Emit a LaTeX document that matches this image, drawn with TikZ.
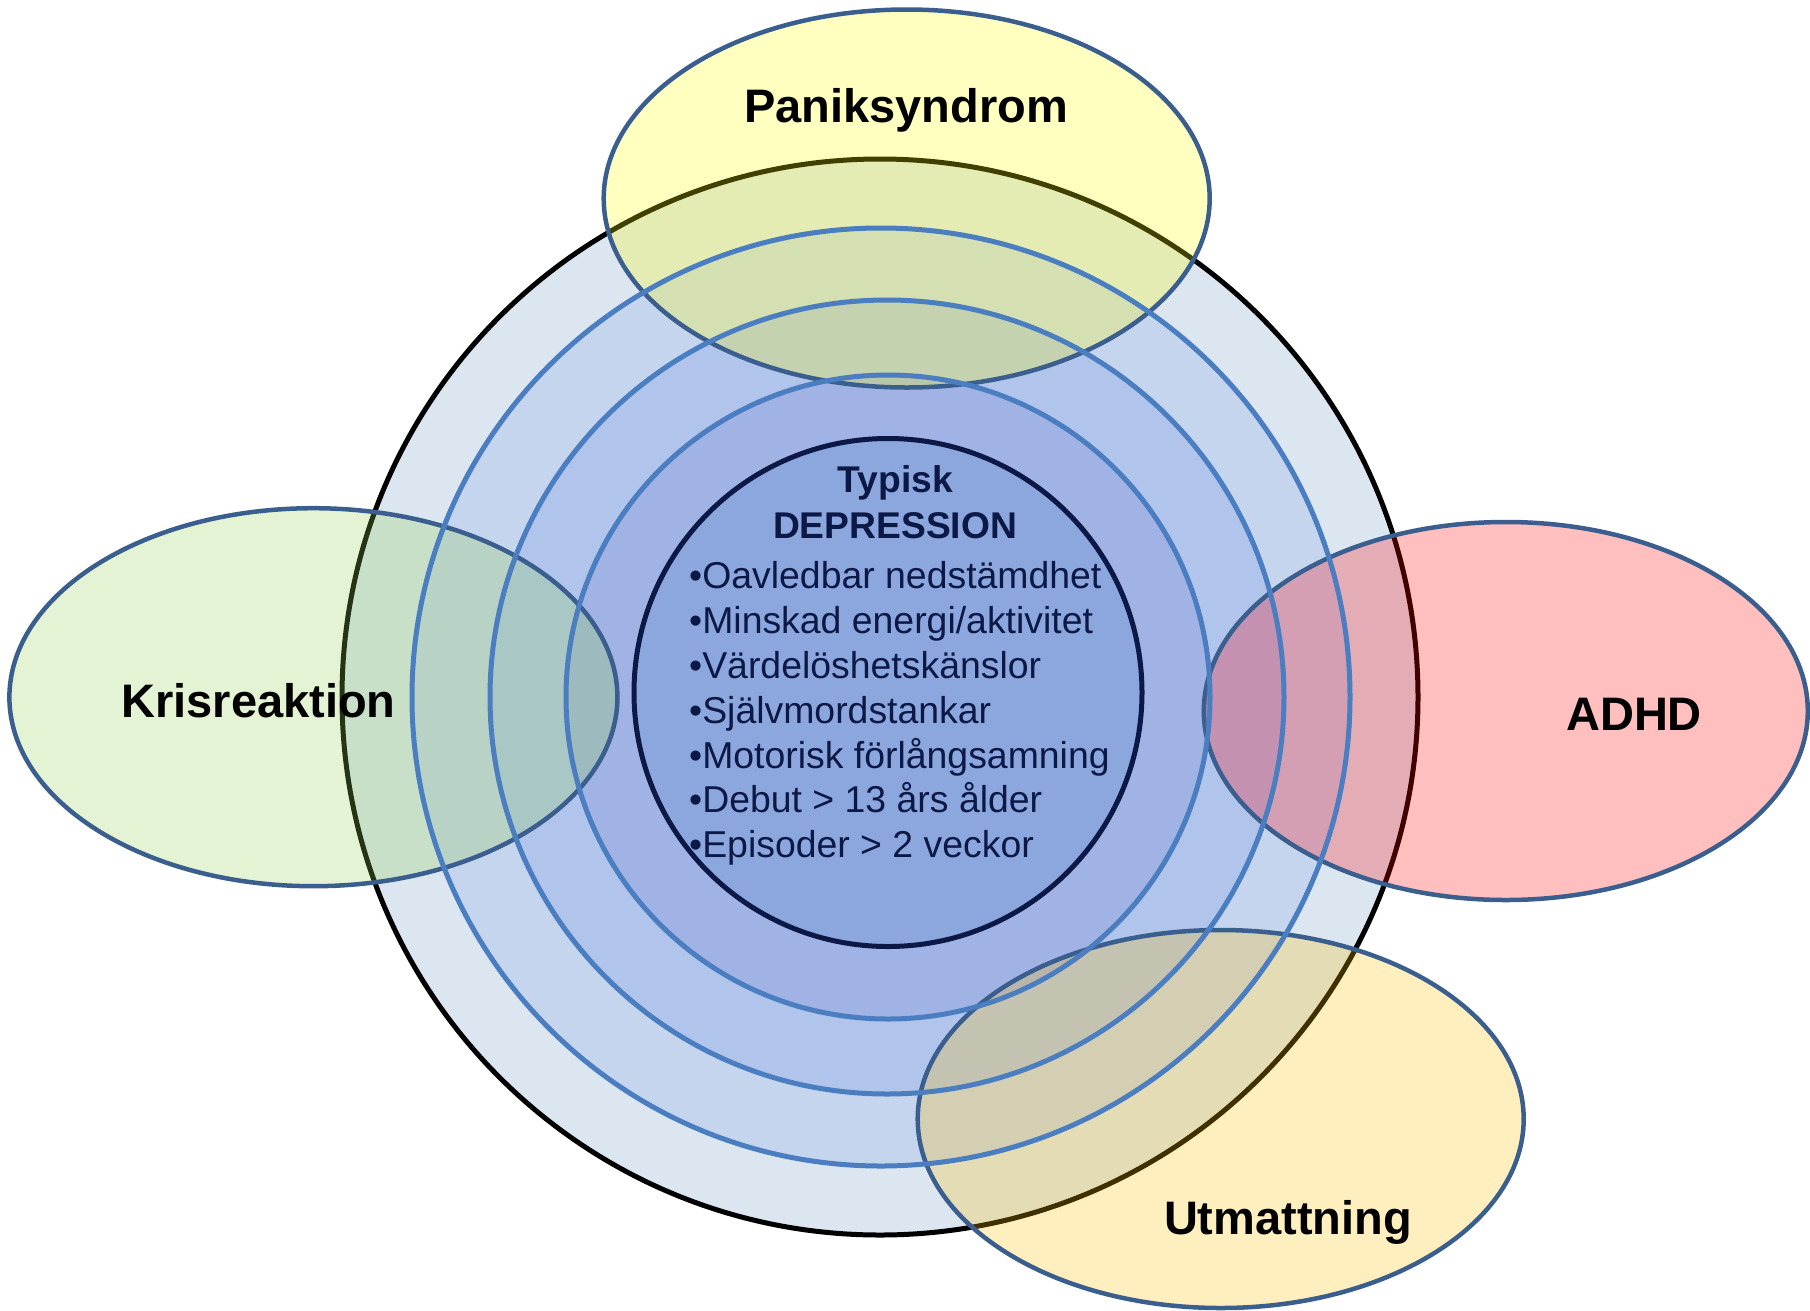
\documentclass[tikz,border=0pt]{standalone}
\usepackage{fontspec}
\setmainfont{Liberation Sans}
% ring fills, from the outermost band inwards
\definecolor{bandA}{HTML}{DCE6F1}
\definecolor{bandB}{HTML}{C6D5EE}
\definecolor{bandC}{HTML}{B1C4EB}
\definecolor{bandD}{HTML}{A1B3E4}
\definecolor{core}{HTML}{8BA7DD}
\definecolor{ringline}{HTML}{4A7EC0}
\definecolor{navy}{HTML}{0C1846}
\definecolor{zoneline}{HTML}{3A5E8E}
\definecolor{panikfill}{HTML}{FFFF00}
\definecolor{krisfill}{HTML}{92D050}
\definecolor{adhdfill}{HTML}{FF0000}
\definecolor{utmfill}{HTML}{FFC000}
\begin{document}
\begin{tikzpicture}[x=1pt,y=-1pt,
  ring/.style={draw=ringline, line width=5pt},
  zone/.style={fill opacity=0.25},
  zoneborder/.style={draw=zoneline, line width=4.5pt},
  lbl/.style={font=\fontsize{47}{56}\selectfont\bfseries, text=black, inner sep=0pt, anchor=base},
  head/.style={font=\fontsize{37.2}{45}\selectfont\bfseries, text=navy, inner sep=0pt, anchor=base},
  item/.style={font=\fontsize{37.4}{45}\selectfont, text=navy, inner sep=0pt, anchor=base west}]
\useasboundingbox (0,0) rectangle (1810,1310);

% concentric bands of the depression core
\draw[fill=bandA, draw=black, line width=5pt] (880,697) circle[radius=538pt];
\fill[bandB] (881,697) circle[radius=469pt];
\fill[bandC] (887,697) circle[radius=397pt];
\fill[bandD] (888,697) circle[radius=322pt];
\draw[fill=core, draw=navy, line width=5pt] (888,692.5) circle[radius=254pt];

% overlapping conditions
\fill[zone, panikfill] (906.7,198.5) ellipse[x radius=303pt, y radius=189pt];
\fill[zone, krisfill]  (313.4,697.2) ellipse[x radius=304pt, y radius=189pt];
\fill[zone, adhdfill]  (1505.8,711)  ellipse[x radius=302pt, y radius=189pt];
\fill[zone, utmfill]   (1220.7,1119) ellipse[x radius=303pt, y radius=189pt];
\draw[zoneborder] (906.7,198.5) ellipse[x radius=303pt, y radius=189pt];
\draw[zoneborder] (313.4,697.2) ellipse[x radius=304pt, y radius=189pt];
\draw[zoneborder] (1505.8,711)  ellipse[x radius=302pt, y radius=189pt];
\draw[zoneborder] (1220.7,1119) ellipse[x radius=303pt, y radius=189pt];

% band outlines stay on top of the condition areas
\draw[ring] (881,697) circle[radius=469pt];
\draw[ring] (887,697) circle[radius=397pt];
\draw[ring] (888,697) circle[radius=322pt];

\node[lbl] (panik) at (906,122) {Paniksyndrom};
\node[lbl] (kris) at (258.6,717) {Krisreaktion};
\node[lbl] (adhd) at (1634,730.7) {ADHD};
\node[lbl] (utm) at (1288,1234) {Utmattning};

% core description
\node[head] (typisk) at (895.5,492.9) {Typisk};
\node[head] (depr) at (895,538) {DEPRESSION};
\foreach \t [count=\i from 0] in {Oavledbar nedstämdhet, Minskad energi/aktivitet,
    Värdelöshetskänslor, Självmordstankar, Motorisk förlångsamning,
    Debut > 13 års ålder, Episoder > 2 veckor}
  \node[item] (item\i) at (689,588.7+44.83*\i) {•\t};
\end{tikzpicture}
\end{document}
